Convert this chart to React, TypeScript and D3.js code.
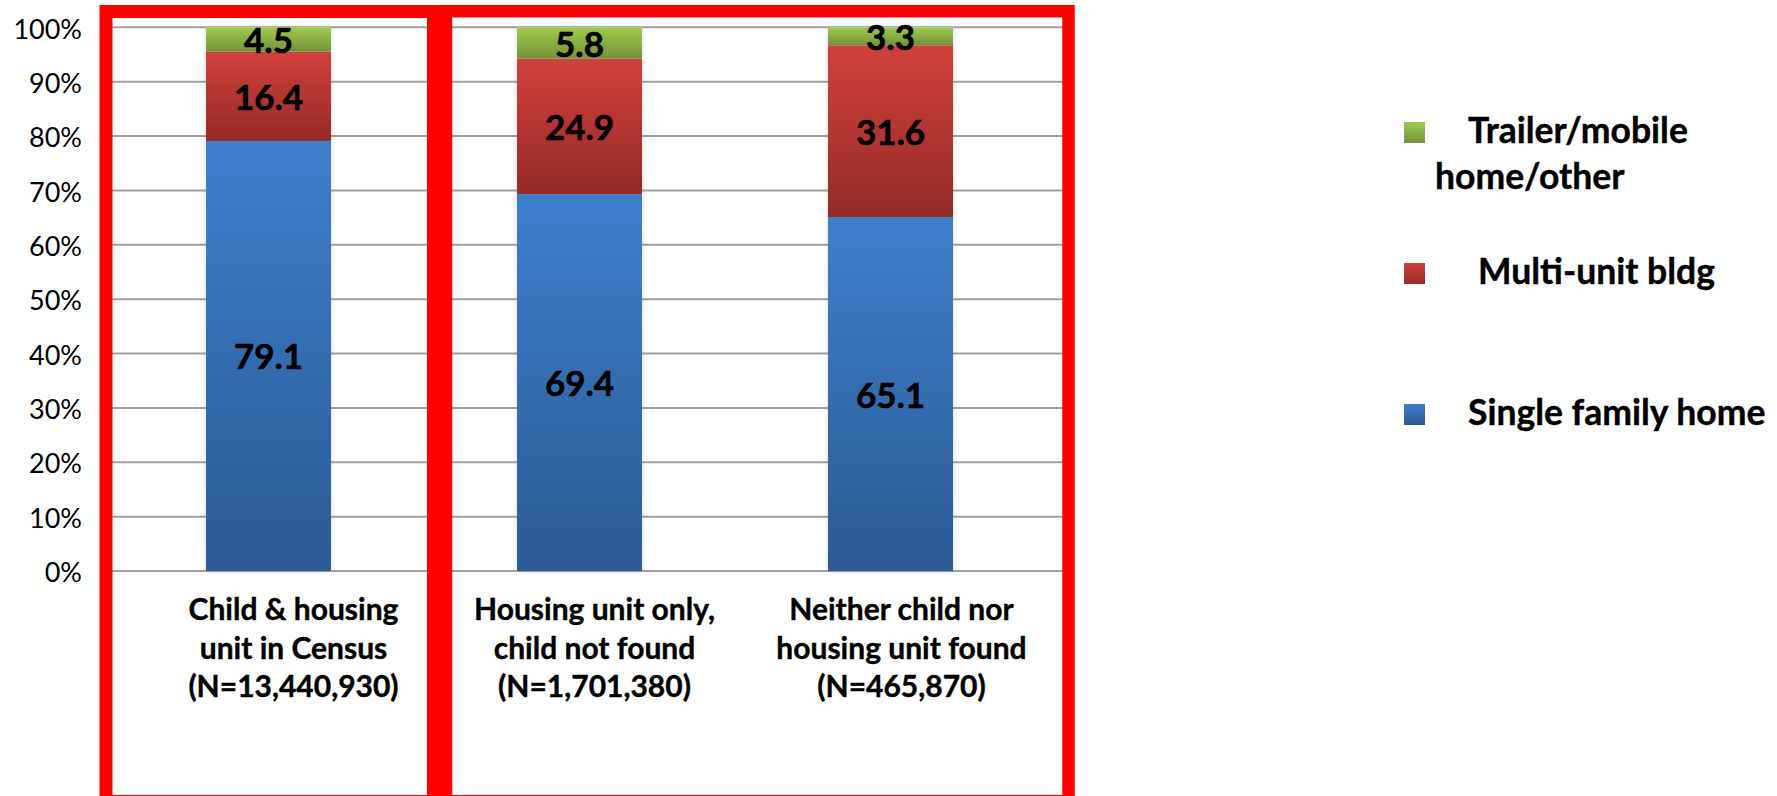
import React from "react";
import * as d3 from "d3";

const categories: string[][] = [
  ["Child & housing", "unit in Census", "(N=13,440,930)"],
  ["Housing unit only,", "child not found", "(N=1,701,380)"],
  ["Neither child nor", "housing unit found", "(N=465,870)"],
];
const singleFamily = [79.1, 69.4, 65.1];
const multiUnit = [16.4, 24.9, 31.6];
const trailer = [4.5, 5.8, 3.3];
const seriesNames = ["Single family home", "Multi-unit bldg", "Trailer/mobile home/other"];
const yTicks = [0, 0.1, 0.2, 0.3, 0.4, 0.5, 0.6, 0.7, 0.8, 0.9, 1.0];

const W = 1777;
const H = 796;
const FONT = "Lato, 'Open Sans', sans-serif";

const gradients = [
  { id: "gBlue", top: "#3D7FCC", bottom: "#2C5A94" },
  { id: "gRed", top: "#D1413D", bottom: "#952A27" },
  { id: "gGreen", top: "#9FCB4C", bottom: "#74923A" },
];

export default function App() {
  const rows = categories.map((c, i) => ({
    key: String(i),
    s0: singleFamily[i],
    s1: multiUnit[i],
    s2: trailer[i],
  }));
  const keys = ["s0", "s1", "s2"];
  const values = [singleFamily, multiUnit, trailer];
  const stacked = d3.stack<any>().keys(keys).offset(d3.stackOffsetExpand)(rows);

  const x = d3
    .scaleBand<string>()
    .domain(rows.map((r) => r.key))
    .range([113, 1046])
    .paddingInner(0.598)
    .paddingOuter(0.299);
  const y = d3.scaleLinear().domain([0, 1]).range([571, 27.3]);
  const pct = d3.format(".0%");
  const labelOffsets = [25, 15, 11];

  const legendItems = [
    { grad: "gGreen", my: 122, lines: [{ t: "Trailer/mobile", x: 1468, y: 143 }, { t: "home/other", x: 1435, y: 189 }] },
    { grad: "gRed", my: 263, lines: [{ t: "Multi-unit bldg", x: 1478, y: 284 }] },
    { grad: "gBlue", my: 404, lines: [{ t: "Single family home", x: 1468, y: 425 }] },
  ];

  return (
    <svg width={W} height={H} style={{ position: "absolute", left: 0, top: 0, background: "#fff" }}>
      <defs>
        {gradients.map((g) => (
          <linearGradient key={g.id} id={g.id} x1="0" y1="0" x2="0" y2="1">
            <stop offset="0%" stopColor={g.top} />
            <stop offset="100%" stopColor={g.bottom} />
          </linearGradient>
        ))}
        <filter id="shadow" x="-10%" y="-10%" width="120%" height="120%">
          <feDropShadow dx="0" dy="0" stdDeviation="2.5" floodColor="#000" floodOpacity="0.18" />
        </filter>
      </defs>
      <rect x={0} y={0} width={W} height={H} fill="#fff" />

      {/* gridlines */}
      {yTicks.map((t) => (
        <line key={t} x1={100} x2={1070} y1={y(t)} y2={y(t)} stroke="#a0a0a0" strokeWidth={2} />
      ))}

      {/* y tick labels */}
      {yTicks.map((t) => (
        <text
          key={"l" + t}
          x={82}
          y={y(t) + 11.2}
          textAnchor="end"
          fontFamily={FONT}
          fontSize={27}
          fill="#000"
        >
          {pct(t)}
        </text>
      ))}

      {/* bar shadows */}
      {rows.map((r) => (
        <rect
          key={"sh" + r.key}
          x={x(r.key)}
          y={y(1)}
          width={x.bandwidth()}
          height={y(0) - y(1)}
          fill="#fff"
          filter="url(#shadow)"
        />
      ))}

      {/* bars */}
      {stacked.map((layer, si) => (
        <g key={layer.key} fill={`url(#${gradients[si].id})`}>
          {layer.map((d, i) => (
            <rect
              key={i}
              x={x(rows[i].key)}
              y={y(d[1])}
              width={x.bandwidth()}
              height={y(d[0]) - y(d[1])}
            />
          ))}
        </g>
      ))}

      {/* data labels */}
      {stacked.map((layer, si) =>
        layer.map((d, i) => (
          <text
            key={layer.key + "t" + i}
            x={(x(rows[i].key) as number) + x.bandwidth() / 2}
            y={(y(d[0]) + y(d[1])) / 2 + 13.5}
            textAnchor="middle"
            fontFamily={FONT}
            fontWeight={700}
            fontSize={35}
            fill="#000"
            stroke="#000"
            strokeWidth={0.6}
          >
            {d3.format(".1f")(values[si][i])}
          </text>
        ))
      )}

      {/* category labels */}
      {categories.map((lines, i) => (
        <text
          key={"c" + i}
          textAnchor="middle"
          fontFamily={FONT}
          fontWeight={700}
          fontSize={30}
          fill="#000"
          stroke="#000"
          strokeWidth={0.4}
        >
          {lines.map((ln, j) => (
            <tspan
              key={j}
              x={(x(rows[i].key) as number) + x.bandwidth() / 2 + labelOffsets[i]}
              y={620 + j * 38.7}
            >
              {ln}
            </tspan>
          ))}
        </text>
      ))}

      {/* red boxes */}
      <rect x={106} y={11.5} width={327.5} height={790} fill="none" stroke="#ff0000" strokeWidth={13} />
      <rect x={446} y={11.2} width={622.5} height={790} fill="none" stroke="#ff0000" strokeWidth={12.5} />

      {/* legend */}
      {legendItems.map((it, k) => (
        <g key={"lg" + k}>
          <rect x={1404} y={it.my} width={21} height={21} fill={`url(#${it.grad})`} />
          {it.lines.map((ln, j) => (
            <text
              key={j}
              x={ln.x}
              y={ln.y}
              fontFamily={FONT}
              fontWeight={700}
              fontSize={35.5}
              fill="#000"
              stroke="#000"
              strokeWidth={0.4}
            >
              {ln.t}
            </text>
          ))}
        </g>
      ))}
    </svg>
  );
}
